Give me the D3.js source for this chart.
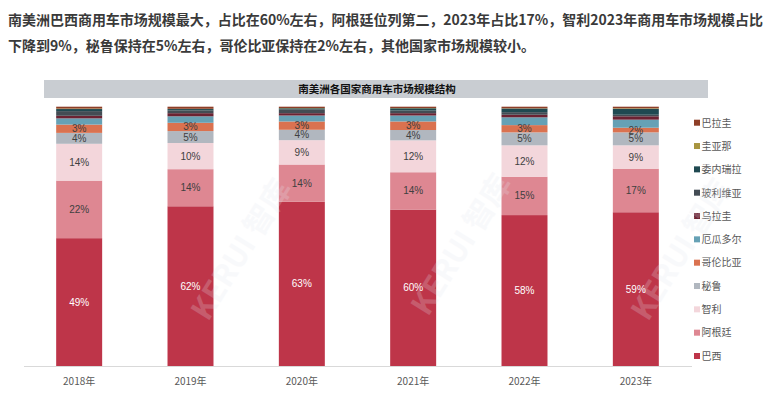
<!DOCTYPE html>
<html>
<head>
<meta charset="utf-8">
<script src="https://cdn.jsdelivr.net/npm/d3@7"></script>
<style>
  body { margin: 0; background: #fff; }
  svg { display: block; font-family: "Noto Sans CJK SC", "Liberation Sans", sans-serif; }
</style>
</head>
<body>
<svg id="chart" width="774" height="399"></svg>
<script>
// 数据
var years = ["2018年", "2019年", "2020年", "2021年", "2022年", "2023年"];
var countries = ["巴西", "阿根廷", "智利", "秘鲁", "哥伦比亚", "厄瓜多尔", "乌拉圭", "玻利维亚", "委内瑞拉", "圭亚那", "巴拉圭"];
var brazil    = [49.3, 61.6, 63.4, 60.4, 58.2, 59.3];
var argentina = [22.2, 14.3, 14.3, 14.4, 14.8, 16.8];
var chile     = [14.2, 10.1, 9.4, 12.3, 12.1, 9.0];
var peru      = [4.2, 4.6, 4.0, 4.0, 5.0, 5.0];
var colombia  = [3.2, 3.2, 3.2, 3.3, 2.8, 1.8];
var ecuador   = [2.4, 2.5, 2.3, 2.3, 3.0, 3.1];
var uruguay   = [1.0, 1.2, 0.9, 0.9, 1.0, 1.3];
var bolivia   = [1.8, 1.1, 1.5, 1.0, 1.0, 0.6];
var venezuela = [0.8, 0.5, 0.4, 0.9, 1.4, 2.3];
var guyana    = [0.2, 0.1, 0.1, 0.1, 0.1, 0.2];
var paraguay  = [0.7, 0.8, 0.5, 0.5, 0.6, 0.6];
var seriesValues = [brazil, argentina, chile, peru, colombia, ecuador, uruguay, bolivia, venezuela, guyana, paraguay];
var labelled = ["巴西", "阿根廷", "智利", "秘鲁", "哥伦比亚"];

var colors = ["#be3549", "#de8792", "#f3d6db", "#b1b7bf", "#da7250", "#66a1b5",
              "#6c2232", "#434c54", "#1f4951", "#a8953f", "#8e3e27"];

var svg = d3.select("#chart");

// 标题
var title = svg.append("g")
  .attr("font-size", "14px").attr("font-weight", "bold").attr("fill", "#3a3a3a");
title.append("text").attr("x", 8).attr("y", 25)
  .attr("textLength", 755).attr("lengthAdjust", "spacingAndGlyphs")
  .text("南美洲巴西商用车市场规模最大，占比在60%左右，阿根廷位列第二，2023年占比17%，智利2023年商用车市场规模占比");
title.append("text").attr("x", 8).attr("y", 51)
  .attr("textLength", 527).attr("lengthAdjust", "spacingAndGlyphs")
  .text("下降到9%，秘鲁保持在5%左右，哥伦比亚保持在2%左右，其他国家市场规模较小。");

// 图表标题栏
svg.append("rect").attr("x", 44).attr("y", 80).attr("width", 664).attr("height", 18).attr("fill", "#c9cdd2");
svg.append("text").attr("x", 377).attr("y", 93).attr("text-anchor", "middle")
  .attr("font-size", "10.5px").attr("font-weight", "bold").attr("fill", "#111")
  .text("南美洲各国家商用车市场规模结构");

var table = years.map(function(y, i) {
  var row = { year: y };
  countries.forEach(function(c, k) { row[c] = seriesValues[k][i]; });
  return row;
});

var x = d3.scaleBand().domain(years).range([23.5, 691.5]).paddingInner(0.587).paddingOuter(0.2935);
var y = d3.scaleLinear().domain([0, 1]).range([366, 106.7]);
var color = d3.scaleOrdinal().domain(countries).range(colors);

var stack = d3.stack().keys(countries).offset(d3.stackOffsetExpand);
var layers = stack(table);

var g = svg.append("g");
g.selectAll(".layer")
  .data(layers)
  .enter().append("g")
  .attr("class", "layer")
  .attr("fill", function(d) { return color(d.key); })
  .selectAll("rect")
  .data(function(d) { return d; })
  .enter().append("rect")
  .attr("x", function(d) { return x(d.data.year); })
  .attr("y", function(d) { return y(d[1]); })
  .attr("height", function(d) { return y(d[0]) - y(d[1]); })
  .attr("width", x.bandwidth());

// 数据标签
layers.filter(function(l) { return labelled.indexOf(l.key) >= 0; }).forEach(function(l) {
  g.selectAll(null)
    .data(l)
    .enter().append("text")
    .attr("x", function(d) { return x(d.data.year) + x.bandwidth() / 2; })
    .attr("y", function(d) { return (y(d[0]) + y(d[1])) / 2 + 3.5; })
    .attr("text-anchor", "middle")
    .attr("font-size", "10px")
    .attr("font-family", "'Liberation Sans', sans-serif")
    .attr("fill", l.key === "巴西" ? "#ffffff" : "#404040")
    .text(function(d) { return Math.round(d.data[l.key]) + "%"; });
});

// x 轴
var xAxis = svg.append("g").attr("transform", "translate(0,366)")
  .call(d3.axisBottom(x).tickSize(0).tickPadding(12));
xAxis.select(".domain").attr("stroke", "#d9d9d9");
xAxis.selectAll("text").attr("font-size", "10px").attr("fill", "#595959")
  .attr("font-family", "'Noto Sans CJK SC', sans-serif");

// 图例
var legend = svg.append("g").selectAll("g")
  .data(countries.slice().reverse())
  .enter().append("g")
  .attr("transform", function(d, i) { return "translate(694," + (122.7 + i * 23.33) + ")"; });
legend.append("rect").attr("x", 0).attr("y", -3).attr("width", 6).attr("height", 6)
  .attr("fill", function(d) { return color(d); });
legend.append("text").attr("x", 7.5).attr("y", 3.8)
  .attr("font-size", "10px").attr("fill", "#595959")
  .text(function(d) { return d; });

// 水印
var wm = svg.append("g").attr("pointer-events", "none");
[[250, 255], [470, 250], [690, 255]].forEach(function(p) {
  wm.append("text")
    .attr("transform", "translate(" + p[0] + "," + p[1] + ") rotate(-58)")
    .attr("text-anchor", "middle")
    .attr("font-size", "30px").attr("font-weight", "bold")
    .attr("fill", "#e4e7ef").attr("opacity", 0.22)
    .text("KERUI 智库");
});
</script>
</body>
</html>
